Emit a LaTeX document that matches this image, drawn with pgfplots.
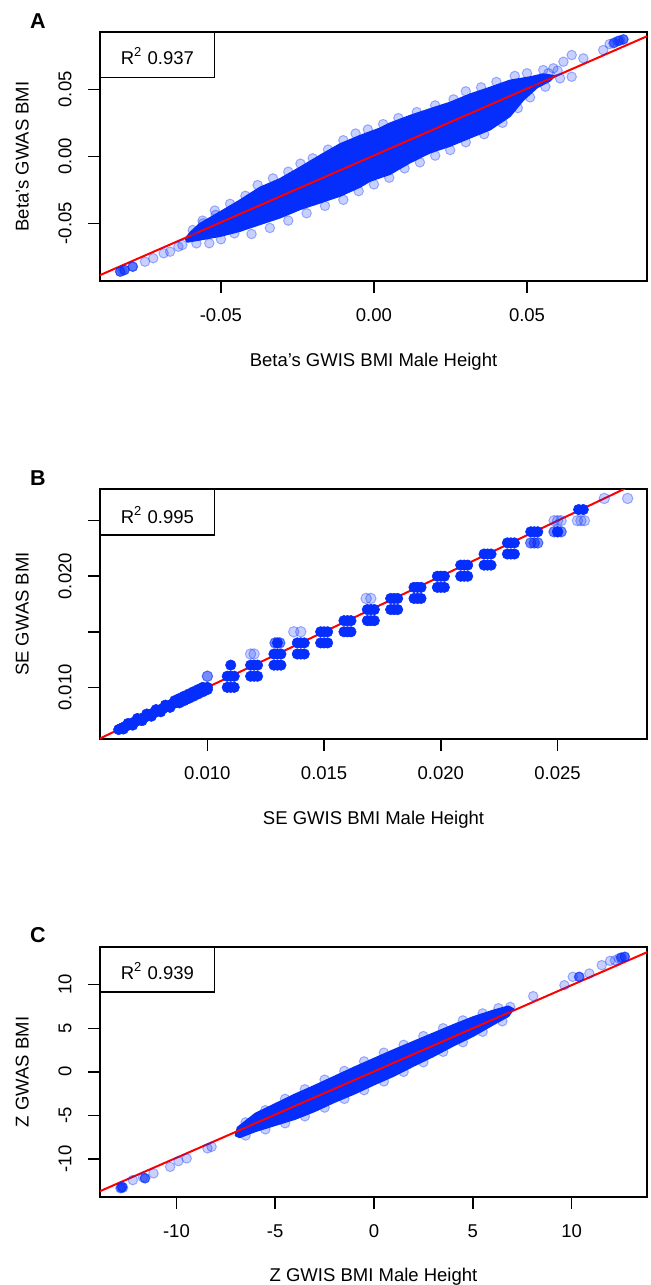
\documentclass[border=0pt]{standalone}
\usepackage{fontspec}
\setmainfont{Liberation Sans}
\usepackage{pgfplots}
\pgfplotsset{compat=1.18}
\definecolor{coreblue}{RGB}{5,45,252}
\definecolor{rline}{RGB}{255,0,0}
\pgfplotsset{
  panel/.style={scale only axis, width=218.8pt, anchor=south west,
    scaled ticks=false,
    axis line style={line width=0.6pt}, tick style={line width=0.6pt,black},
    tick align=outside, major tick length=4.8pt, xtick pos=bottom, ytick pos=left,
    tick label style={font=\fontsize{7.4}{8.9}\selectfont},
    xticklabel style={anchor=base}, xticklabel shift=11.4pt,
    yticklabel style={rotate=90, anchor=base}, yticklabel shift=6.6pt,
    clip=true},
  faint/.style={only marks, mark=*, mark size=1.9pt,
    mark options={fill=coreblue, fill opacity=0.22, draw=coreblue, draw opacity=0.35, line width=0.4pt}},
  medium/.style={only marks, mark=*, mark size=1.9pt,
    mark options={fill=coreblue, fill opacity=0.55, draw=coreblue, draw opacity=0.6, line width=0.4pt}},
  solidpts/.style={only marks, mark=*, mark size=1.9pt,
    mark options={fill=coreblue, draw=coreblue, line width=0.2pt}},
  core/.style={fill=coreblue, draw=coreblue, line width=0.8pt, line join=round, mark=none},
  fitline/.style={rline, line width=0.8pt, mark=none},
}
\newcommand{\lab}{\fontsize{7.4}{8.9}\selectfont}
\begin{document}
\begin{tikzpicture}
\path[use as bounding box] (0,0) rectangle (260pt,-514pt);
% ---------------- Panel A ----------------
\begin{axis}[panel, at={(40pt,-112.4pt)}, height=99.6pt,
  xmin=-0.0895, xmax=0.0892, ymin=-0.0931, ymax=0.0928,
  xtick={-0.05,0,0.05}, xticklabels={-0.05,0.00,0.05},
  ytick={-0.05,0,0.05}, yticklabels={-0.05,0.00,0.05}]
\addplot[faint] coordinates {
(-0.0560,-0.0480) (-0.0520,-0.0405) (-0.0470,-0.0355) (-0.0420,-0.0295) (-0.0380,-0.0215)
(-0.0330,-0.0165) (-0.0280,-0.0115) (-0.0240,-0.0055) (-0.0200,-0.0015) (-0.0150,0.0050)
(-0.0100,0.0120) (-0.0060,0.0170) (-0.0020,0.0200) (0.0030,0.0240) (0.0080,0.0285)
(0.0140,0.0330) (0.0200,0.0380) (0.0260,0.0425) (0.0300,0.0485) (0.0350,0.0515)
(0.0400,0.0555) (0.0460,0.0600) (0.0500,0.0620)
(0.0560,0.0520) (0.0510,0.0440) (0.0470,0.0360) (0.0420,0.0250) (0.0360,0.0165)
(0.0300,0.0105) (0.0249,0.0047) (0.0200,0.0005) (0.0150,-0.0045) (0.0100,-0.0090)
(0.0050,-0.0160) (0.0000,-0.0210) (-0.0050,-0.0260) (-0.0100,-0.0325) (-0.0160,-0.0370)
(-0.0220,-0.0425) (-0.0280,-0.0480) (-0.0340,-0.0535) (-0.0400,-0.0580) (-0.0456,-0.0575)
(-0.0500,-0.0620) (-0.0538,-0.0649) (-0.0580,-0.0650)
(-0.0829,-0.0861) (-0.0822,-0.0855) (-0.0815,-0.0849) (-0.0788,-0.0824) (-0.0748,-0.0787)
(-0.0721,-0.0761) (-0.0687,-0.0724) (-0.0666,-0.0712) (-0.0639,-0.0675) (-0.0626,-0.0662)
(-0.0592,-0.0550) (-0.0558,-0.0500) (-0.0517,-0.0438)
(0.0815,0.0873) (0.0805,0.0866) (0.0795,0.0860) (0.0782,0.0843) (0.0770,0.0838)
(0.0749,0.0793) (0.0684,0.0731) (0.0646,0.0756) (0.0619,0.0706) (0.0586,0.0657)
(0.0646,0.0594) (0.0608,0.0582) (0.0553,0.0644) (0.0521,0.0557) (0.0600,0.0640) (0.0570,0.0620)
};
\addplot[medium] coordinates {
(-0.0829,-0.0861) (-0.0815,-0.0849) (-0.0788,-0.0824) (0.0815,0.0873) (0.0800,0.0862) (0.0785,0.0848)
};
\addplot[core] coordinates {
(-0.0615,-0.0615) (-0.0600,-0.0570) (-0.0569,-0.0505) (-0.0503,-0.0418) (-0.0438,-0.0330)
(-0.0373,-0.0235) (-0.0307,-0.0170) (-0.0242,-0.0085) (-0.0176,0.0005) (-0.0111,0.0090)
(-0.0046,0.0152) (0.0020,0.0208) (0.0052,0.0245) (0.0118,0.0302) (0.0183,0.0352)
(0.0248,0.0400) (0.0314,0.0462) (0.0379,0.0512) (0.0444,0.0565) (0.0510,0.0590)
(0.0552,0.0612) (0.0590,0.0600)
(0.0575,0.0565) (0.0533,0.0515) (0.0487,0.0420) (0.0444,0.0300) (0.0379,0.0200)
(0.0314,0.0140) (0.0248,0.0078) (0.0183,0.0028) (0.0118,-0.0045) (0.0052,-0.0132)
(-0.0013,-0.0183) (-0.0046,-0.0228) (-0.0111,-0.0295) (-0.0176,-0.0345) (-0.0242,-0.0395)
(-0.0307,-0.0457) (-0.0373,-0.0507) (-0.0438,-0.0557) (-0.0503,-0.0595) (-0.0569,-0.0622)
(-0.0610,-0.0638)
} -- cycle;
\addplot[fitline] coordinates {(-0.1,-0.0992) (0.1,0.1004)};
\draw[line width=0.6pt] (rel axis cs:0,1) rectangle (rel axis cs:0.2093,0.818);
\node[anchor=base east, font=\lab] at (rel axis cs:0.188,0.871) {R\textsuperscript{2} 0.937};
\end{axis}
% ---------------- Panel B ----------------
\begin{axis}[panel, at={(40pt,-295.6pt)}, height=100pt,
  xmin=0.0054, xmax=0.02883, ymin=0.00535, ymax=0.02785,
  xtick={0.010,0.015,0.020,0.025}, xticklabels={0.010,0.015,0.020,0.025},
  ytick={0.010,0.015,0.020,0.025}, yticklabels={0.010,,0.020,}]
\addplot[faint, mark size=2.1pt] coordinates {
(0.01185,0.013) (0.0120,0.013) (0.0137,0.015) (0.0140,0.015)
(0.0168,0.018) (0.0170,0.018)
(0.02485,0.025) (0.0250,0.025) (0.02515,0.025)
(0.02585,0.025) (0.0260,0.025) (0.02615,0.025)
(0.0270,0.027) (0.0280,0.027)
};
\addplot[medium, mark size=2.1pt] coordinates {
(0.0100,0.011) (0.0129,0.014) (0.0131,0.014)
(0.02385,0.023) (0.0240,0.023) (0.02415,0.023)
(0.02485,0.024) (0.0250,0.024) (0.02515,0.024)
};
\addplot[solidpts, mark size=2.1pt] coordinates {
(0.0062,0.0062) (0.0063,0.0063) (0.0064,0.0064) (0.0065,0.0065) (0.0066,0.0066)
(0.0067,0.0067) (0.0068,0.0068) (0.0069,0.0069) (0.0070,0.0070) (0.0071,0.0071)
(0.0072,0.0072) (0.0073,0.0073) (0.0074,0.0074) (0.0075,0.0075) (0.0076,0.0076)
(0.0077,0.0077) (0.0078,0.0078) (0.0079,0.0079) (0.0080,0.0080) (0.0081,0.0081)
(0.0082,0.0082) (0.0083,0.0083) (0.0084,0.0084) (0.0085,0.0085) (0.0086,0.0086)
(0.0087,0.0087) (0.0088,0.0088) (0.0089,0.0089) (0.0090,0.0090) (0.0091,0.0091)
(0.0092,0.0092) (0.0093,0.0093) (0.0094,0.0094) (0.0095,0.0095) (0.0096,0.0096)
(0.0097,0.0097) (0.0098,0.0098) (0.0099,0.0099) (0.0100,0.0100)
(0.0066,0.00675) (0.0070,0.00720) (0.0074,0.00760) (0.0078,0.00800) (0.0082,0.00840) (0.0086,0.00880)
(0.0088,0.00900) (0.0090,0.00920) (0.0092,0.00940) (0.0094,0.00960) (0.0096,0.00980) (0.0098,0.01000)
(0.0064,0.00625) (0.0068,0.00660) (0.0072,0.00700) (0.0076,0.00740) (0.0080,0.00780) (0.0084,0.00820)
(0.0088,0.00860) (0.0090,0.00880) (0.0092,0.00900) (0.0094,0.00920) (0.0096,0.00940) (0.0098,0.00960) (0.0100,0.00980)
(0.0110,0.012)
(0.01085,0.011) (0.0110,0.011) (0.01115,0.011) (0.01085,0.010) (0.0110,0.010) (0.01115,0.010)
(0.01185,0.012) (0.0120,0.012) (0.01215,0.012) (0.01185,0.011) (0.0120,0.011) (0.01215,0.011)
(0.0130,0.014)
(0.01285,0.013) (0.0130,0.013) (0.01315,0.013) (0.01285,0.012) (0.0130,0.012) (0.01315,0.012)
(0.01385,0.014) (0.0140,0.014) (0.01415,0.014) (0.01385,0.013) (0.0140,0.013) (0.01415,0.013)
(0.01485,0.015) (0.0150,0.015) (0.01515,0.015) (0.01485,0.014) (0.0150,0.014) (0.01515,0.014)
(0.01585,0.016) (0.0160,0.016) (0.01615,0.016) (0.01585,0.015) (0.0160,0.015) (0.01615,0.015)
(0.01685,0.017) (0.0170,0.017) (0.01715,0.017) (0.01685,0.016) (0.0170,0.016) (0.01715,0.016)
(0.01785,0.018) (0.0180,0.018) (0.01815,0.018) (0.01785,0.017) (0.0180,0.017) (0.01815,0.017)
(0.01885,0.019) (0.0190,0.019) (0.01915,0.019) (0.01885,0.018) (0.0190,0.018) (0.01915,0.018)
(0.01985,0.020) (0.0200,0.020) (0.02015,0.020) (0.01985,0.019) (0.0200,0.019) (0.02015,0.019)
(0.02085,0.021) (0.0210,0.021) (0.02115,0.021) (0.02085,0.020) (0.0210,0.020) (0.02115,0.020)
(0.02185,0.022) (0.0220,0.022) (0.02215,0.022) (0.02185,0.021) (0.0220,0.021) (0.02215,0.021)
(0.02285,0.023) (0.0230,0.023) (0.02315,0.023) (0.02285,0.022) (0.0230,0.022) (0.02315,0.022)
(0.02385,0.024) (0.0240,0.024) (0.02415,0.024)
(0.0250,0.024)
(0.0259,0.026) (0.0261,0.026)
};
\addplot[fitline] coordinates {(0.004,0.004) (0.03,0.03)};
\draw[line width=0.6pt] (rel axis cs:0,1) rectangle (rel axis cs:0.2093,0.816);
\node[anchor=base east, font=\lab] at (rel axis cs:0.188,0.863) {R\textsuperscript{2} 0.995};
\end{axis}
% ---------------- Panel C ----------------
\begin{axis}[panel, at={(40pt,-478.8pt)}, height=100pt,
  xmin=-13.87, xmax=13.82, ymin=-14.36, ymax=14.32,
  xtick={-10,-5,0,5,10}, xticklabels={-10,-5,0,5,10},
  ytick={-10,-5,0,5,10}, yticklabels={-10,-5,0,5,10}]
\addplot[faint] coordinates {
(-6.5,-5.8) (-5.5,-4.4) (-4.5,-3.1) (-3.5,-2.0) (-2.5,-0.9) (-1.5,0.1) (-0.5,1.2)
(0.5,2.2) (1.5,3.1) (2.5,4.1) (3.5,5.0) (4.5,5.9) (5.5,6.7) (6.3,7.3)
(6.5,5.8) (5.5,4.6) (4.5,3.4) (3.5,2.3) (2.5,1.1) (1.5,0.0) (0.5,-1.1) (-0.5,-2.1)
(-1.5,-3.1) (-2.5,-4.1) (-3.5,-5.1) (-4.5,-5.9) (-5.5,-6.6) (-6.5,-7.3)
(12.68,13.19) (12.55,13.1) (12.4,13.0) (12.2,12.8) (11.95,12.73) (11.53,12.24)
(10.9,11.28) (10.37,10.9) (10.06,10.9) (9.64,9.94) (8.06,8.68) (6.9,7.45)
(-8.22,-8.6) (-8.43,-8.78) (-9.48,-9.93) (-9.9,-10.25) (-10.32,-10.9) (-11.16,-11.65)
(-11.58,-12.22) (-11.7,-12.1) (-12.21,-12.42) (-12.74,-13.19) (-12.84,-13.37) (-12.7,-13.3)
};
\addplot[medium] coordinates {
(12.7,13.2) (12.5,13.1) (-12.8,-13.3) (-12.75,-13.2) (-11.6,-12.2) (10.4,10.9)
};
\addplot[core] coordinates {
(-7.0,-7.3) (-6.9,-6.4) (-6.0,-4.8) (-5.0,-3.7) (-4.0,-2.6) (-3.0,-1.6) (-2.0,-0.55)
(-1.0,0.5) (0.0,1.5) (1.0,2.5) (2.0,3.45) (3.0,4.4) (4.0,5.35) (5.0,6.25) (6.0,7.0)
(6.8,7.5) (7.05,7.2)
(6.8,6.4) (6.0,5.4) (5.0,4.1) (4.0,3.0) (3.0,1.8) (2.0,0.7) (1.0,-0.45) (0.0,-1.45)
(-1.0,-2.5) (-2.0,-3.45) (-3.0,-4.5) (-4.0,-5.4) (-5.0,-6.1) (-6.0,-6.8) (-6.8,-7.5)
} -- cycle;
\addplot[fitline] coordinates {(-15,-14.81) (15,14.89)};
\draw[line width=0.6pt] (rel axis cs:0,1) rectangle (rel axis cs:0.2093,0.821);
\node[anchor=base east, font=\lab] at (rel axis cs:0.188,0.870) {R\textsuperscript{2} 0.939};
\end{axis}
% ---------------- labels ----------------
\node[anchor=base, font=\fontsize{8.6}{10}\selectfont\bfseries] at (15.2pt,-11.4pt) {A};
\node[anchor=base, font=\fontsize{8.6}{10}\selectfont\bfseries] at (15.2pt,-194.2pt) {B};
\node[anchor=base, font=\fontsize{8.6}{10}\selectfont\bfseries] at (15.2pt,-377pt) {C};
\node[anchor=base, font=\lab] at (149.4pt,-146.6pt) {Beta's GWIS BMI Male Height};
\node[anchor=base, font=\lab] at (149.4pt,-329.8pt) {SE GWIS BMI Male Height};
\node[anchor=base, font=\lab] at (149.4pt,-512.6pt) {Z GWIS BMI Male Height};
\node[anchor=base, rotate=90, font=\lab] at (11.4pt,-62.6pt) {Beta's GWAS BMI};
\node[anchor=base, rotate=90, font=\lab] at (11.4pt,-245.6pt) {SE GWAS BMI};
\node[anchor=base, rotate=90, font=\lab] at (11.4pt,-428.8pt) {Z GWAS BMI};
\end{tikzpicture}
\end{document}
